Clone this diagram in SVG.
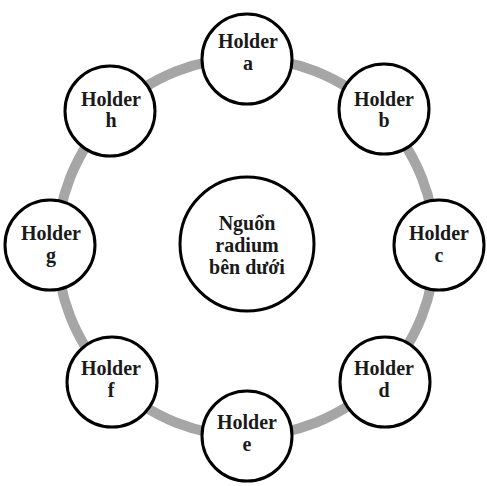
<svg xmlns="http://www.w3.org/2000/svg" width="487" height="486" viewBox="0 0 487 486">
<style>
.ring{fill:none;stroke:#a6a6a6;stroke-width:10}
.node{fill:#fff;stroke:#000;stroke-width:3}
.t{font-family:"Liberation Serif","Times New Roman",serif;font-weight:bold;font-size:20px;fill:#1a1a1a;text-anchor:middle}
</style>
<rect width="487" height="486" fill="#fff"/>
<g id="connectors">
<circle class="ring" cx="246" cy="247" r="189"/>
</g>
<g id="center">
<circle class="node" cx="247" cy="244" r="67"/>
<text class="t" x="247" y="230">Nguổn</text>
<text class="t" x="247" y="252">radium</text>
<text class="t" x="247" y="274">bên dưới</text>
</g>
<g id="holder-a">
<circle class="node" cx="247" cy="59" r="45"/>
<text class="t" x="248" y="48">Holder</text>
<text class="t" x="248" y="70">a</text>
</g>
<g id="holder-b">
<circle class="node" cx="384" cy="109" r="45"/>
<text class="t" x="384" y="106">Holder</text>
<text class="t" x="384" y="127">b</text>
</g>
<g id="holder-c">
<circle class="node" cx="439" cy="245" r="45"/>
<text class="t" x="439" y="240">Holder</text>
<text class="t" x="439" y="262">c</text>
</g>
<g id="holder-d">
<circle class="node" cx="385" cy="382" r="45"/>
<text class="t" x="384" y="375">Holder</text>
<text class="t" x="384" y="397">d</text>
</g>
<g id="holder-e">
<circle class="node" cx="247" cy="436" r="45"/>
<text class="t" x="247" y="429">Holder</text>
<text class="t" x="247" y="451">e</text>
</g>
<g id="holder-f">
<circle class="node" cx="112" cy="382" r="45"/>
<text class="t" x="111" y="375">Holder</text>
<text class="t" x="111" y="397">f</text>
</g>
<g id="holder-g">
<circle class="node" cx="50" cy="245" r="45"/>
<text class="t" x="51" y="240">Holder</text>
<text class="t" x="51" y="262">g</text>
</g>
<g id="holder-h">
<circle class="node" cx="110" cy="111" r="45"/>
<text class="t" x="111" y="106">Holder</text>
<text class="t" x="111" y="127">h</text>
</g>
</svg>
